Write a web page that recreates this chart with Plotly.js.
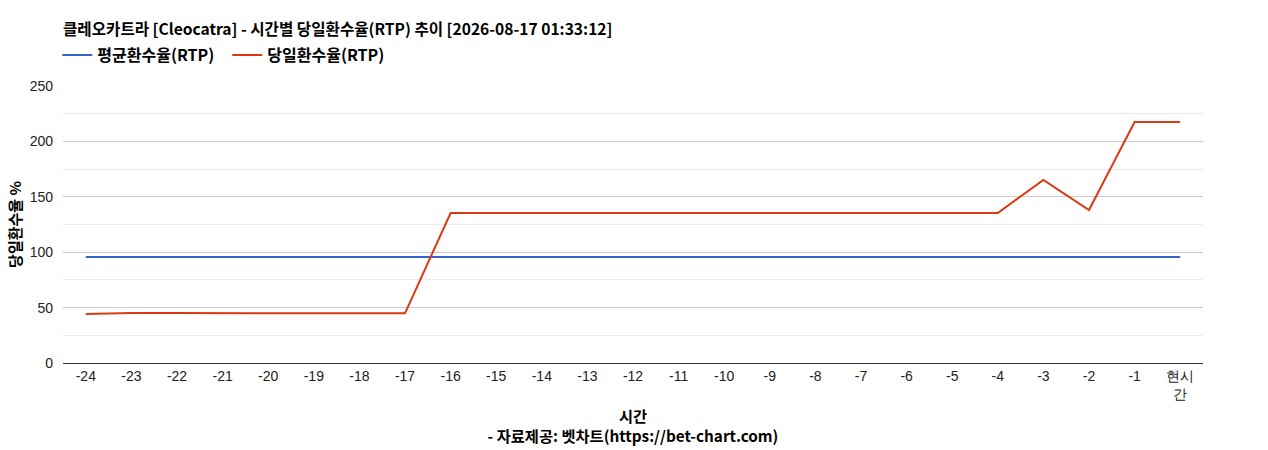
<!DOCTYPE html>
<html><head><meta charset="utf-8">
<script src="https://cdn.plot.ly/plotly-3.0.1.min.js"></script>
<style>body{margin:0;background:#fff}#c{width:1268px;height:450px}</style>
</head><body><div id="c"></div>
<script>
const categories = ["-24","-23","-22","-21","-20","-19","-18","-17","-16","-15","-14","-13","-12","-11","-10","-9","-8","-7","-6","-5","-4","-3","-2","-1","현시간"];
const tickLabels = ["-24","-23","-22","-21","-20","-19","-18","-17","-16","-15","-14","-13","-12","-11","-10","-9","-8","-7","-6","-5","-4","-3","-2","-1","현시<br>간"];
const avgRTP = [95.7,95.7,95.7,95.7,95.7,95.7,95.7,95.7,95.7,95.7,95.7,95.7,95.7,95.7,95.7,95.7,95.7,95.7,95.7,95.7,95.7,95.7,95.7,95.7,95.7];
const dayRTP = [44.2,45.1,45.1,45.1,45.1,44.5,44.5,44.8,135.4,135.4,135.4,135.4,135.4,135.4,135.4,135.4,135.4,135.4,135.4,135.4,135.4,165.2,138.1,217.5,217.5];
const seriesNames = ["평균환수율(RTP)","당일환수율(RTP)"];
const titleText = "클레오카트라 [Cleocatra] - 시간별 당일환수율(RTP) 추이 [2026-08-17 01:33:12]";

const cjk = '"Noto Sans CJK KR", "Liberation Sans", Arial, sans-serif';
const arial = '"Liberation Sans", Arial, sans-serif';
const traces = [
  {x: categories, y: avgRTP, name: seriesNames[0], type: 'scatter', mode: 'lines', line: {color: '#3366cc', width: 2}},
  {x: categories, y: dayRTP, name: seriesNames[1], type: 'scatter', mode: 'lines', line: {color: '#dc3912', width: 2}}
];
const layout = {
  width: 1268, height: 450,
  margin: {l: 63, r: 65, t: 86, b: 87, autoexpand: false},
  paper_bgcolor: '#fff', plot_bgcolor: '#fff',
  font: {family: arial, size: 14, color: '#222'},
  title: {text: '<b>' + titleText + '</b>', x: 0, xref: 'paper', xanchor: 'left', y: 1 - 30/450, yref: 'container', yanchor: 'middle', font: {family: cjk, size: 15.6, color: '#000'}},
  showlegend: true,
  legend: {orientation: 'h', x: -0.005, xanchor: 'left', y: 1 + 31/277, yanchor: 'middle', font: {family: cjk, size: 16, color: '#000', weight: 'bold'}, traceorder: 'normal', itemwidth: 30, entrywidth: 125, entrywidthmode: 'pixels'},
  xaxis: {
    type: 'category', range: [-0.5, 24.5], tickmode: 'array', tickvals: categories, ticktext: tickLabels,
    showgrid: false, showline: true, linecolor: '#333', linewidth: 1, ticks: '', ticklen: 0,
    tickfont: {family: arial, size: 14, color: '#222'},
    title: {text: '<b>시간</b><br><b>- 자료제공: 벳차트(https://bet-chart.com)</b>', font: {family: cjk, size: 15.3, color: '#000'}, standoff: 10}
  },
  yaxis: {
    range: [0, 250], dtick: 50, tick0: 0, showgrid: true, gridcolor: '#cccccc', gridwidth: 1,
    zeroline: true, zerolinecolor: '#333', zerolinewidth: 1, showline: false, ticks: '',
    ticklabelstandoff: 9,
    minor: {dtick: 25, tick0: 0, showgrid: true, gridcolor: '#ebebeb', gridwidth: 1},
    tickfont: {family: arial, size: 14, color: '#222'},
    title: {text: '<b>당일환수율 %</b>', font: {family: cjk, size: 15, color: '#000'}, standoff: 4}
  }
};
Plotly.newPlot('c', traces, layout, {displayModeBar: false, staticPlot: true});
</script></body></html>
